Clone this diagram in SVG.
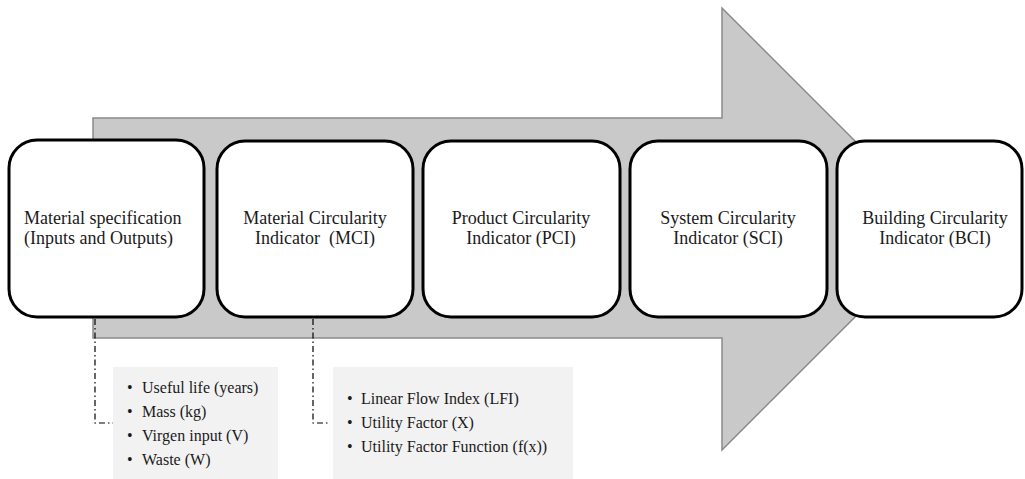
<svg xmlns="http://www.w3.org/2000/svg" width="1025" height="479" viewBox="0 0 1025 479">
<style>
.node{fill:#ffffff;stroke:#000000;stroke-width:3}
.t{font-family:"Liberation Serif","Times New Roman",serif;font-size:18px;fill:#1a1a1a}
.c{text-anchor:middle}
.b{font-family:"Liberation Serif","Times New Roman",serif;font-size:16px;fill:#1a1a1a}
.list{fill:#f2f2f2}
.conn{fill:none;stroke:#000000;stroke-width:1.2;stroke-dasharray:6 3 1.5 3}
</style>
<g id="arrow">
<path d="M93 118 L722 118 L722 8 L943 229 L722 450 L722 338 L93 338 Z" fill="#c9c9c9" stroke="#8a8a8a" stroke-width="1.5"/>
</g>
<g id="connectors">
<path class="conn" d="M95 319 L95 423 L113 423"/>
<path class="conn" d="M313 319 L313 423 L330 423"/>
</g>
<g id="node1">
<rect class="node" x="9" y="140" width="195" height="177" rx="28"/>
<text class="t" x="24" y="224">Material specification</text>
<text class="t" x="24" y="244">(Inputs and Outputs)</text>
</g>
<g id="node2">
<rect class="node" x="217" y="141" width="196" height="176" rx="28"/>
<text class="t c" x="315" y="224">Material Circularity</text>
<text class="t c" x="315" y="244" xml:space="preserve">Indicator  (MCI)</text>
</g>
<g id="node3">
<rect class="node" x="423" y="141" width="197" height="176" rx="28"/>
<text class="t c" x="521" y="224">Product Circularity</text>
<text class="t c" x="521" y="244">Indicator (PCI)</text>
</g>
<g id="node4">
<rect class="node" x="630" y="141" width="197" height="176" rx="28"/>
<text class="t c" x="728" y="224">System Circularity</text>
<text class="t c" x="728" y="244">Indicator (SCI)</text>
</g>
<g id="node5">
<rect class="node" x="837" y="141" width="185" height="176" rx="28"/>
<text class="t c" x="935" y="224">Building Circularity</text>
<text class="t c" x="935" y="244">Indicator (BCI)</text>
</g>
<g id="list1">
<rect class="list" x="113" y="367" width="165" height="112"/>
<text class="b" x="127" y="393">•</text><text class="b" x="142" y="393">Useful life (years)</text>
<text class="b" x="127" y="417">•</text><text class="b" x="142" y="417">Mass (kg)</text>
<text class="b" x="127" y="441">•</text><text class="b" x="142" y="441">Virgen input (V)</text>
<text class="b" x="127" y="465">•</text><text class="b" x="142" y="465">Waste (W)</text>
</g>
<g id="list2">
<rect class="list" x="333" y="367" width="240" height="112"/>
<text class="b" x="347" y="404">•</text><text class="b" x="361" y="404">Linear Flow Index (LFI)</text>
<text class="b" x="347" y="428">•</text><text class="b" x="361" y="428">Utility Factor (X)</text>
<text class="b" x="347" y="452">•</text><text class="b" x="361" y="452">Utility Factor Function (f(x))</text>
</g>
</svg>
